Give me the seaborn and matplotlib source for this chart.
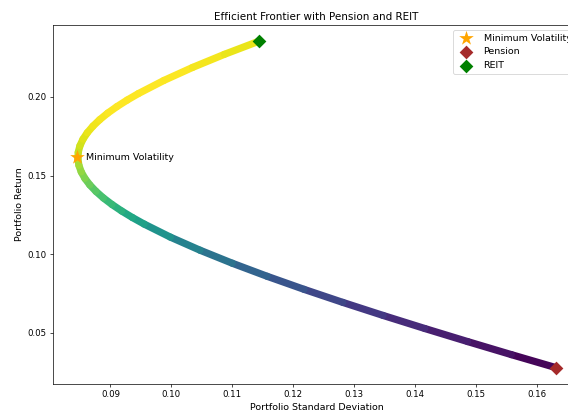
import numpy as np
import matplotlib
matplotlib.use("Agg")
import matplotlib.pyplot as plt
import seaborn as sb
from matplotlib.collections import LineCollection

###### Values
# frontier points (portfolio std, portfolio return), from Pension end to REIT end
frontier_std = [0.16310, 0.15577, 0.14859, 0.14157, 0.13473, 0.12812, 0.12176,
                0.11570, 0.10999, 0.10468, 0.09983, 0.09553, 0.09360, 0.09184,
                0.09025, 0.08884, 0.08763, 0.08661, 0.08580, 0.08520, 0.08482,
                0.08466, 0.08471, 0.08499, 0.08549, 0.08620, 0.08712, 0.08824,
                0.08955, 0.09106, 0.09274, 0.09459, 0.09875, 0.10347, 0.10868,
                0.11430]
frontier_ret = [0.02780, 0.03610, 0.04441, 0.05271, 0.06102, 0.06932, 0.07762,
                0.08593, 0.09423, 0.10254, 0.11084, 0.11914, 0.12330, 0.12745,
                0.13160, 0.13575, 0.13990, 0.14406, 0.14821, 0.15236, 0.15651,
                0.16066, 0.16482, 0.16897, 0.17312, 0.17727, 0.18142, 0.18558,
                0.18973, 0.19388, 0.19803, 0.20218, 0.21049, 0.21879, 0.22710,
                0.23540]
min_vol = (0.0845, 0.1615)
pension = (0.1631, 0.0278)
reit = (0.1143, 0.2354)

DPI = 62.5

###### Plotting
fig = plt.figure(figsize=(568 / DPI, 414 / DPI), dpi=DPI)
ax = fig.add_axes([0.0933, 0.0725, 0.9278, 0.8671])

x = np.array(frontier_std)
y = np.array(frontier_ret)
sharpe = y / x
pts = np.column_stack([x, y]).reshape(-1, 1, 2)
segs = np.concatenate([pts[:-1], pts[1:]], axis=1)
seg_val = (sharpe[:-1] + sharpe[1:]) / 2
lc = LineCollection(segs, cmap="viridis", linewidths=8.3, capstyle="round",
                    joinstyle="round", zorder=1)
lc.set_array(seg_val)
lc.set_clim(sharpe.min(), sharpe.max())
ax.add_collection(lc)

sb.scatterplot(x=[min_vol[0]], y=[min_vol[1]], marker="*", s=310, color="orange",
               linewidth=0, label="Minimum Volatility", ax=ax, zorder=3)
sb.scatterplot(x=[pension[0]], y=[pension[1]], marker="D", s=125, color="brown",
               linewidth=0, label="Pension", ax=ax, zorder=3)
sb.scatterplot(x=[reit[0]], y=[reit[1]], marker="D", s=125, color="green",
               linewidth=0, label="REIT", ax=ax, zorder=3)

ax.annotate("Minimum Volatility", xy=min_vol, xytext=(11, 0),
            textcoords="offset points", va="center", ha="left", fontsize=11)
ax.autoscale_view()

ax.set_title("Efficient Frontier with Pension and REIT")
ax.set_xlabel("Portfolio Standard Deviation", fontsize=11)
ax.set_ylabel("Portfolio Return", fontsize=11)
ax.legend(loc="upper right", fontsize=11)

plt.savefig("out.png", dpi=DPI)
